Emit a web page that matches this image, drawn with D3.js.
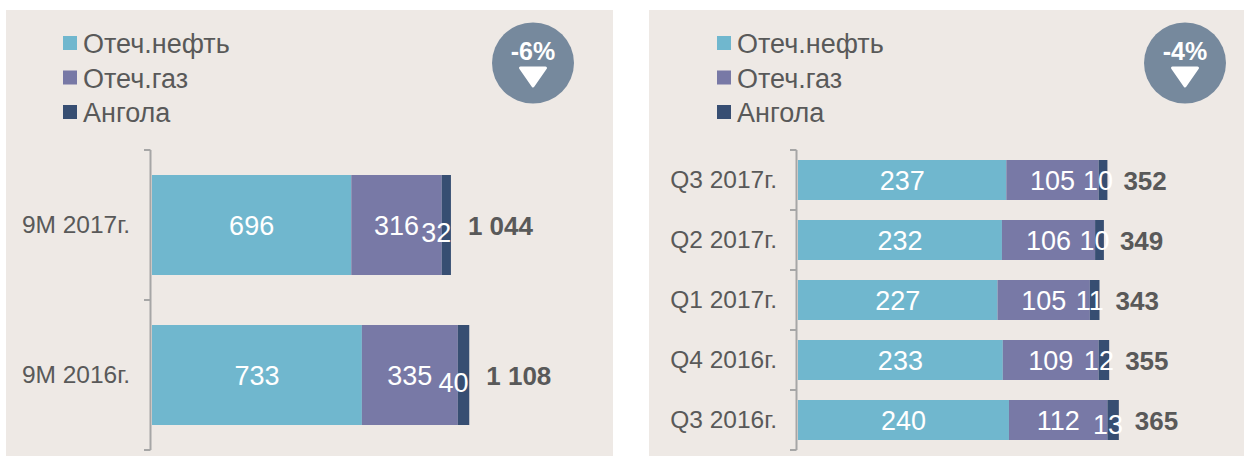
<!DOCTYPE html>
<html>
<head>
<meta charset="utf-8">
<script src="https://cdn.jsdelivr.net/npm/d3@7"></script>
<style>
  html, body { margin: 0; padding: 0; background: #fff; overflow: hidden; }
  text { font-family: "Liberation Sans", Arial, sans-serif; }
</style>
</head>
<body>
<div id="chart"></div>
<script>
const seriesNames = ["Отеч.нефть", "Отеч.газ", "Ангола"];
const seriesKeys = ["oil", "gas", "angola"];
const seriesColors = ["#70b7ce", "#7879a6", "#374e72"];

// left panel, 9 months
const ninePeriods = ["9M 2017г.", "9M 2016г."];
const nineOil = [696, 733];
const nineGas = [316, 335];
const nineAngola = [32, 40];
const nineTotals = ["1 044", "1 108"];
const nineChange = "-6%";

// right panel, quarters
const quarterPeriods = ["Q3 2017г.", "Q2 2017г.", "Q1 2017г.", "Q4 2016г.", "Q3 2016г."];
const quarterOil = [237, 232, 227, 233, 240];
const quarterGas = [105, 106, 105, 109, 112];
const quarterAngola = [10, 10, 11, 12, 13];
const quarterTotals = ["352", "349", "343", "355", "365"];
const quarterChange = "-4%";

const width = 1244, height = 456;

const svg = d3.select("#chart")
  .append("svg")
  .attr("width", width)
  .attr("height", height)
  .style("display", "block");

function drawPanel(o) {
  const g = svg.append("g").attr("transform", `translate(${o.left},10)`);

  g.append("rect")
    .attr("width", o.width)
    .attr("height", height - 10)
    .attr("fill", "#eee9e5");

  // legend
  const legendY = d3.scalePoint().domain(seriesNames).range([33, 102]);
  const legend = g.selectAll(".legend")
    .data(seriesNames)
    .join("g")
    .attr("transform", d => `translate(${o.legendX},${legendY(d)})`);
  legend.append("rect")
    .attr("y", -7)
    .attr("width", 14)
    .attr("height", 14)
    .attr("fill", (d, i) => seriesColors[i]);
  legend.append("text")
    .attr("x", 20)
    .attr("y", 1)
    .attr("dy", "0.35em")
    .attr("font-size", 27)
    .attr("fill", "#595959")
    .text(d => d);

  // change badge
  const badge = g.append("g").attr("transform", `translate(${o.badgeX},53)`);
  badge.append("ellipse")
    .attr("rx", 41)
    .attr("ry", 40.5)
    .attr("fill", "#76899d");
  badge.append("text")
    .attr("y", -12)
    .attr("dy", "0.35em")
    .attr("text-anchor", "middle")
    .attr("font-size", 25)
    .attr("font-weight", "bold")
    .attr("fill", "#fff")
    .text(o.change);
  badge.append("path")
    .attr("d", "M-12.5,5H12.5L0,23Z")
    .attr("fill", "#fff")
    .attr("stroke", "#fff")
    .attr("stroke-width", 3)
    .attr("stroke-linejoin", "round");

  const rows = o.periods.map((p, i) => ({
    period: p, oil: o.oil[i], gas: o.gas[i], angola: o.angola[i], total: o.totals[i]
  }));
  const stacked = d3.stack().keys(seriesKeys)(rows);

  const x = d3.scaleLinear().domain([0, o.xMax]).range([o.plotX, o.plotX + o.plotW]);
  const y = d3.scaleBand()
    .domain(o.periods)
    .range([140, 440])
    .paddingInner(o.padding)
    .paddingOuter(o.padding / 2);

  // axis is a bracket with ticks between the categories
  const edges = o.periods.map(p => y(p) - y.step() * y.paddingInner() / 2)
    .concat(y.range()[1]);
  g.append("line")
    .attr("x1", x(0) - 1.5).attr("x2", x(0) - 1.5)
    .attr("y1", y.range()[0]).attr("y2", y.range()[1])
    .attr("stroke", "#a6a6a6")
    .attr("stroke-width", 2);
  g.selectAll(".tick-mark")
    .data(edges)
    .join("line")
    .attr("x1", x(0) - 8).attr("x2", x(0) - 1.5)
    .attr("y1", d => d).attr("y2", d => d)
    .attr("stroke", "#a6a6a6")
    .attr("stroke-width", 2);

  g.selectAll(".period")
    .data(o.periods)
    .join("text")
    .attr("x", x(0) - o.periodGap)
    .attr("y", d => y(d) + y.bandwidth() / 2 - 1)
    .attr("dy", "0.35em")
    .attr("text-anchor", "end")
    .attr("font-size", 24.5)
    .attr("fill", "#595959")
    .text(d => d);

  // bars
  stacked.forEach((s, k) => {
    g.selectAll(".bar-" + s.key)
      .data(s)
      .join("rect")
      .attr("x", d => x(d[0]))
      .attr("y", d => y(d.data.period))
      .attr("width", d => x(d[1]) - x(d[0]))
      .attr("height", y.bandwidth())
      .attr("fill", seriesColors[k]);

    g.selectAll(".label-" + s.key)
      .data(s)
      .join("text")
      .attr("x", d => (x(d[0]) + x(d[1])) / 2 + (s.key === "angola" ? o.angolaDx : 0))
      .attr("y", (d, i) => y(d.data.period) + y.bandwidth() / 2 + 1 + (s.key === "angola" ? o.angolaDy[i] : 0))
      .attr("dy", "0.35em")
      .attr("text-anchor", "middle")
      .attr("font-size", 27)
      .attr("fill", "#fff")
      .text(d => d[1] - d[0]);
  });

  // totals
  g.selectAll(".total")
    .data(stacked[2])
    .join("text")
    .attr("x", d => x(d[1]) + o.totalGap)
    .attr("y", d => y(d.data.period) + y.bandwidth() / 2 + 1)
    .attr("dy", "0.35em")
    .attr("font-size", 26)
    .attr("font-weight", "bold")
    .attr("fill", "#595959")
    .text(d => d.data.total);
}

drawPanel({
  left: 6, width: 607, legendX: 57, badgeX: 527,
  periods: ninePeriods, oil: nineOil, gas: nineGas, angola: nineAngola, totals: nineTotals,
  change: nineChange,
  xMax: 1200, plotX: 146, plotW: 343.6, padding: 1 / 3, periodGap: 22,
  angolaDx: -10, angolaDy: [7, 7], totalGap: 17
});

drawPanel({
  left: 649, width: 595, legendX: 68, badgeX: 536,
  periods: quarterPeriods, oil: quarterOil, gas: quarterGas, angola: quarterAngola, totals: quarterTotals,
  change: quarterChange,
  xMax: 400, plotX: 149, plotW: 351.6, padding: 1 / 3, periodGap: 21,
  angolaDx: -5, angolaDy: [0, 0, 0, 0, 4], totalGap: 16
});
</script>
</body>
</html>
